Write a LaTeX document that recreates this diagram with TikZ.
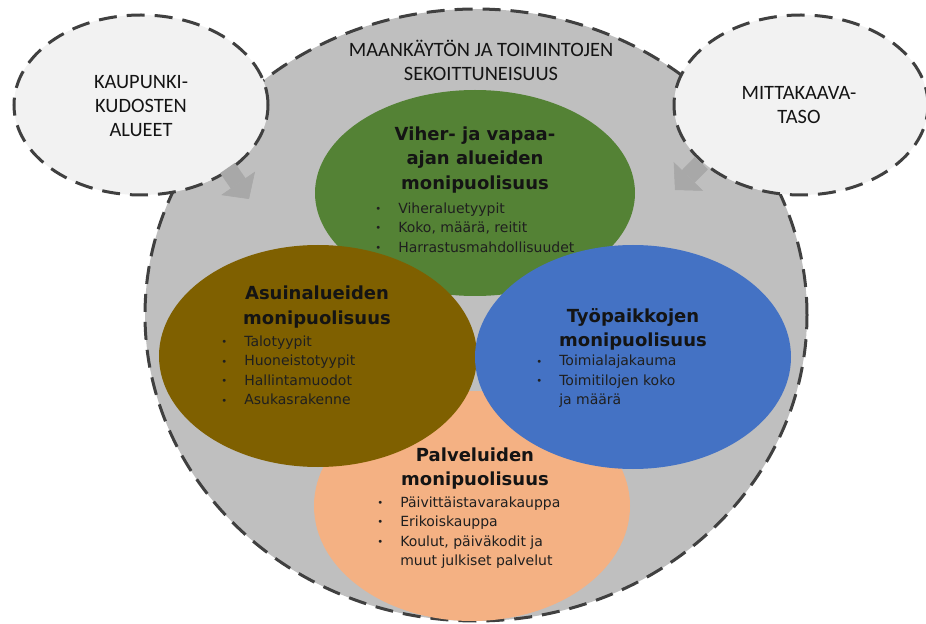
\documentclass[tikz,border=0pt]{standalone}
\usepackage{fontspec}
\setmainfont{DejaVu Sans}
\newfontfamily\calfont{Carlito}
\usetikzlibrary{shapes.geometric,arrows.meta,positioning}
\definecolor{outergray}{HTML}{BFBFBF}
\definecolor{palegray}{HTML}{F2F2F2}
\definecolor{dashgray}{HTML}{404040}
\definecolor{greenc}{HTML}{548235}
\definecolor{brownc}{HTML}{7F6000}
\definecolor{bluec}{HTML}{4472C4}
\definecolor{peachc}{HTML}{F4B183}
\definecolor{arrowc}{HTML}{A8A8A8}
\newcommand{\ttl}{\fontsize{13.5}{18.5}\selectfont\bfseries}
\newcommand{\lst}{\fontsize{10.5}{14.6}\selectfont}
\newcommand{\lbl}{\calfont\fontsize{15.3}{18}\selectfont}
\newcommand{\itm}[1]{\makebox[17.25pt][l]{\raisebox{0.6pt}{\fontsize{7.5}{7.5}\selectfont\textbullet}}#1}
\tikzset{
frame/.style = {ellipse, draw=dashgray, line width=2.25pt, dash pattern=on 13.5pt off 7.5pt, inner sep=0pt},
area/.style = {ellipse, draw=none, inner sep=0pt},
title/.style = {align=center, inner sep=0pt, text=black!92},
items/.style = {align=left, inner sep=0pt, anchor=west, text=black!88},
blockarrow/.style = {draw=arrowc, line width=13.5pt,
  -{Triangle[width=30.75pt, length=14.3pt, line width=0.4pt]}},
}

\begin{document}
\begin{tikzpicture}[x=0.75pt, y=-0.75pt]
  \useasboundingbox (0,0) rectangle (926,624);
  % outer frame and the two side ellipses
  \node [frame, fill=outergray, minimum width=496.5pt, minimum height=459pt] (mix) at (476,315) {};
  \node [frame, fill=palegray, minimum width=190.5pt, minimum height=135pt] (urban) at (141,105) {};
  \node [frame, fill=palegray, minimum width=190.5pt, minimum height=135pt] (scale) at (801,105) {};
  \coordinate (tailL) at (227.5,168);
  \coordinate (tipL) at (249,199);
  \coordinate (tailR) at (701.5,163);
  \coordinate (tipR) at (675,190);
  \draw [blockarrow] (tailL) -- (tipL);
  \draw [blockarrow] (tailR) -- (tipR);
  \node [title, font=\lbl] (mixtext) at (481,60) {MAANKÄYTÖN JA TOIMINTOJEN\\SEKOITTUNEISUUS};
  \node [title, font=\lbl] (urbantext) at (141,106) {KAUPUNKI-\\KUDOSTEN\\ALUEET};
  \node [title, font=\lbl] (scaletext) at (799,105) {MITTAKAAVA-\\TASO};
  % the four themes
  \node [area, fill=greenc, minimum width=240pt, minimum height=154.5pt] (green) at (475,193) {};
  \node [area, fill=peachc, minimum width=237pt, minimum height=172.5pt] (service) at (472,506) {};
  \node [area, fill=brownc, minimum width=238.5pt, minimum height=166.5pt] (housing) at (318,356) {};
  \node [area, fill=bluec, minimum width=237pt, minimum height=168pt] (jobs) at (633,357) {};
  \node [title, font=\ttl] (greentitle) at (475,160) {Viher- ja vapaa-\\ajan alueiden\\monipuolisuus};
  \node [items, font=\lst] (greenlist) at (375,227.5)
    {\itm{Viheraluetyypit}\\\itm{Koko, määrä, reitit}\\\itm{Harrastusmahdollisuudet}};
  \node [title, font=\ttl] (housingtitle) at (317,307) {Asuinalueiden\\monipuolisuus};
  \node [items, font=\lst] (housinglist) at (221,370.5)
    {\itm{Talotyypit}\\\itm{Huoneistotyypit}\\\itm{Hallintamuodot}\\\itm{Asukasrakenne}};
  \node [title, font=\ttl] (jobstitle) at (633,329.5) {Työpaikkojen\\monipuolisuus};
  \node [items, font=\lst] (jobslist) at (536,381.5)
    {\itm{Toimialajakauma}\\\itm{Toimitilojen koko}\\\hspace*{17.25pt}ja määrä};
  \node [title, font=\ttl] (servicetitle) at (475,468.5) {Palveluiden\\monipuolisuus};
  \node [items, font=\lst] (servicelist) at (377,532.5)
    {\itm{Päivittäistavarakauppa}\\\itm{Erikoiskauppa}\\\itm{Koulut, päiväkodit ja}\\\hspace*{17.25pt}muut julkiset palvelut};
\end{tikzpicture}
\end{document}
